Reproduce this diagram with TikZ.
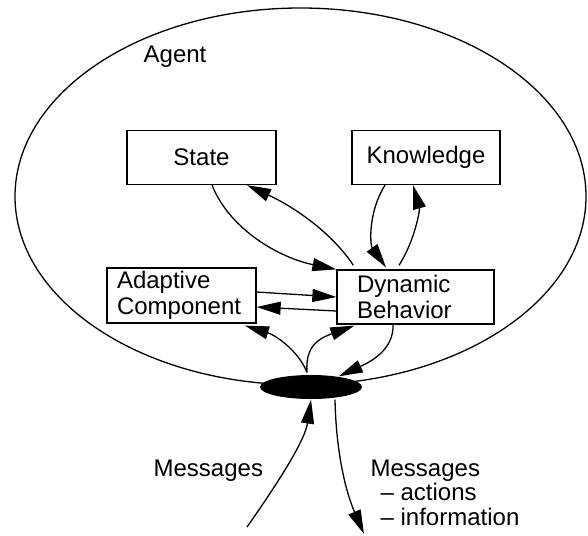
\documentclass[tikz,border=0pt]{standalone}
\usepackage{fontspec}
\setmainfont{Liberation Sans}
\usetikzlibrary{arrows.meta,shapes.geometric}
\begin{document}
\begin{tikzpicture}[x=1pt,y=-1pt,line width=1.3pt,
  box/.style={draw,rectangle,inner sep=0pt,font=\fontsize{24}{26}\selectfont},
  conn/.style={-{Triangle[length=24pt,width=13pt]}},
  lbl/.style={font=\fontsize{24}{24.5}\selectfont,inner sep=0pt}]
\useasboundingbox (0,0) rectangle (588,535);

% agent boundary
\draw (300.5,196.4) ellipse [x radius=285.5, y radius=188.4];
\node[lbl,anchor=base west] (agent) at (143,63) {Agent};

% internal components
\node[box,minimum width=149pt,minimum height=54pt] (state) at (201.5,157.5) {State};
\node[box,minimum width=148pt,minimum height=54pt] (know) at (426,157.5) {Knowledge};
\node[box,minimum width=149pt,minimum height=55pt,align=left,
      text width=129pt,inner xsep=10pt] (adapt) at (181.5,295.5) {Adaptive\\Component};
\node[box,minimum width=157pt,minimum height=54pt,align=left,
      text width=117pt,inner xsep=20pt] (dyn) at (415.5,297) {Dynamic\\Behavior};

% message port
\node[ellipse,fill=black,inner sep=0pt,minimum width=102pt,minimum height=24pt] (port) at (311,387) {};

% state <-> behaviour
\draw[conn] ([xshift=10.5pt]state.south) .. controls (230,230) and (280,258) .. (dyn.north west);
\draw[conn] ([xshift=17pt,yshift=4pt]dyn.north west) .. controls (330,230) and (290,205) .. ([xshift=45.5pt]state.south);

% knowledge <-> behaviour
\draw[conn] ([xshift=-41pt]know.south) .. controls (368,212) and (370,245) .. ([xshift=-29.5pt,yshift=2pt]dyn.north);
\draw[conn] ([xshift=-16.5pt,yshift=4pt]dyn.north) .. controls (415,240) and (420,210) .. ([xshift=-13pt]know.south);

% adaptive <-> behaviour
\draw[conn] ([yshift=3.5pt]adapt.east) -- (dyn.west);
\draw[conn] ([yshift=-14pt]dyn.west) -- ([yshift=-11.5pt]adapt.east);

% port <-> components
\draw[conn] ([xshift=-4pt,yshift=2pt]port.north) .. controls (298,350) and (275,335) .. ([xshift=63.5pt,yshift=-2pt]adapt.south);
\draw[conn] ([xshift=-4pt,yshift=2pt]port.north) .. controls (305,345) and (320,338) .. ([xshift=18pt,yshift=-1pt]dyn.south west);
\draw[conn] ([xshift=-22.5pt]dyn.south) .. controls (394,350) and (370,362) .. (port.21);

% external messages
\coordinate (inStart) at (247,527);
\coordinate (outEnd) at (364,534);
\draw[conn] (inStart) .. controls (280,480) and (305,440) .. (port.south);
\draw[conn] ([xshift=24pt]port.south) .. controls (336,450) and (345,490) .. (outEnd);

\node[lbl,anchor=base west] (msgin) at (153,476) {Messages};
\node[lbl,anchor=north west,align=left] (msgout) at (370,459) {Messages\\\hspace{10pt}– actions\\\hspace{10pt}– information};
\end{tikzpicture}
\end{document}
